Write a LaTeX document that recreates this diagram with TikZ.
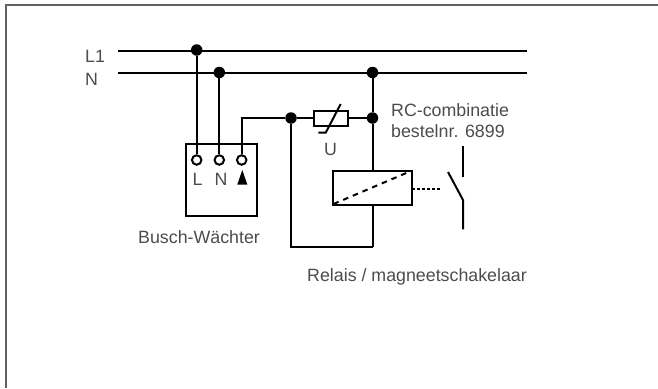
\documentclass[tikz,border=0pt]{standalone}
\usepackage{fontspec}
\setmainfont{Liberation Sans}
\begin{document}
\begin{tikzpicture}[x=1pt,y=-1pt,
  wire/.style={line width=2pt,black},
  thinw/.style={line width=2pt,black},
  frameline/.style={line width=2pt,draw=black!62},
  dot/.style={circle,fill=black,inner sep=0pt,minimum size=11.5pt},
  term/.style={circle,draw=black,fill=white,line width=2pt,inner sep=0pt,minimum size=9.5pt},
  box/.style={draw=black,line width=2pt,fill=white,inner sep=0pt},
  lbl/.style={font=\fontsize{17.8}{21}\selectfont,text=black!70,inner sep=0pt},
  lbll/.style={lbl,anchor=base west}]
\useasboundingbox (0,0) rectangle (658,388);
% frame
\coordinate (fa) at (658,5);
\coordinate (fb) at (6,5);
\coordinate (fc) at (6,388);
\draw[frameline] (fa) -- (fb) -- (fc);
% supply rails
\coordinate (l1a) at (118,50.5);
\coordinate (l1b) at (527,50.5);
\coordinate (na) at (118,72.5);
\coordinate (nb) at (527,72.5);
\draw[wire] (l1a) -- (l1b);
\draw[wire] (na) -- (nb);
% Busch-Waechter box
\node[box,minimum width=71.5pt,minimum height=71.5pt] (bw) at (221.5,180.2) {};
\node[dot] (j1) at (196.7,50) {};
\node[dot] (j2) at (219.3,72.5) {};
\node[dot] (j3) at (372.5,72.5) {};
\node[term] (tl) at (196.7,160) {};
\node[term] (tn) at (219.3,160) {};
\node[term] (ts) at (241.7,160) {};
\draw[wire] (j1) -- (tl);
\draw[wire] (j2) -- (tn);
\node[dot] (j4) at (291,118) {};
\node[dot] (j5) at (372.5,118) {};
\draw[wire] (ts) |- (j4);
% varistor
\node[box,minimum width=34.5pt,minimum height=15pt] (var) at (331.2,118) {};
\draw[wire] (j4) -- (var);
\draw[wire] (var) -- (j5);
\coordinate (va) at (340.7,104);
\coordinate (vb) at (325.7,132.7);
\coordinate (vc) at (318.3,132.7);
\draw[thinw] (va) -- (vb) -- (vc);
% relay
\node[box,minimum width=79.6pt,minimum height=34pt] (rel) at (372.5,187.7) {};
\draw[wire] (j3) -- (j5);
\draw[wire] (j5) -- (rel);
\coordinate (lo) at (372.5,247);
\draw[wire] (rel) -- (lo);
\draw[wire] (lo) -| (j4);
\coordinate (da) at (333.5,204);
\coordinate (db) at (407,172.7);
\draw[thinw,dash pattern=on 5.5pt off 5pt] (da) -- (db);
% switch
\coordinate (dd) at (442,188.7);
\coordinate (dc) at (412.3,188.7);
\draw[thinw,dash pattern=on 2.5pt off 2.5pt] (dc) -- (dd);
\coordinate (s1) at (463,146);
\coordinate (s2) at (463,176.7);
\coordinate (s3) at (463,200);
\coordinate (s4) at (463,229.3);
\coordinate (s5) at (448,172);
\draw[thinw] (s1) -- (s2);
\draw[thinw] (s5) -- (s3) -- (s4);
% triangle
\coordinate (t1) at (237.3,184.5);
\coordinate (t2) at (247.3,184.5);
\coordinate (t3) at (242.3,170);
\fill[black] (t1) -- (t2) -- (t3) -- cycle;
% labels
\node[lbll] (tL1) at (85,62) {L1};
\node[lbll] (tN) at (85,85) {N};
\node[lbll] (tbL) at (192.5,185) {L};
\node[lbll] (tbN) at (214.5,185) {N};
\node[lbll] (tU) at (324,155) {U};
\node[lbll] (tbw) at (138,243.5) {Busch-Wächter};
\node[lbll] (trc) at (391,116.7) {RC-combinatie};
\node[lbll] (tbe) at (391,137) {bestelnr. 6899};
\node[lbll] (trl) at (307,281) {Relais / magneetschakelaar};
\end{tikzpicture}
\end{document}
